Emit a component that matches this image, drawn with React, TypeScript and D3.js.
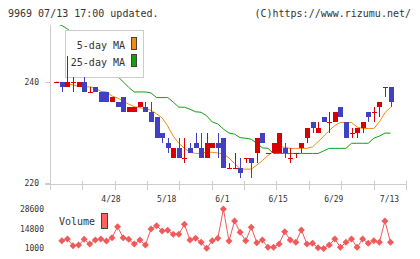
import React from "react";
import * as d3 from "d3";

const title = "9969 07/13 17:00 updated.";
const copyright = "(C)https://www.rizumu.net/";

const dates = [
  "4/14","4/15","4/18","4/19","4/20","4/21","4/22","4/25","4/26","4/27","4/28",
  "5/2","5/6","5/9","5/10","5/11","5/12","5/13","5/16","5/17","5/18",
  "5/19","5/20","5/23","5/24","5/25","5/26","5/27","5/30","5/31","6/1",
  "6/2","6/3","6/6","6/7","6/8","6/9","6/10","6/13","6/14","6/15",
  "6/16","6/17","6/20","6/21","6/22","6/23","6/24","6/27","6/28","6/29",
  "6/30","7/1","7/4","7/5","7/6","7/7","7/8","7/11","7/12","7/13",
];
const labelDates = ["4/28", "5/18", "6/1", "6/15", "6/29", "7/13"];

const opens = [240,240,239,240,239,240,238,239,238,238,236,236,237,234,234,235,235,234,233,230,228,225,227,225,227,228,227,225,227,228,229,223,223,223,225,225,226,230,226,226,226,227,225,226,227,229,232,230,233,232,232,235,232,230,230,231,234,234,235,239,239];
const highs = [240,240,245,241,240,241,239,239,238,238,237,236,237,235,235,236,236,236,233,230,229,227,229,229,228,230,230,230,228,230,229,224,226,225,225,225,229,230,226,228,230,228,227,226,228,231,232,232,233,234,234,235,232,231,231,232,234,235,236,239,239];
const lows = [240,238,239,238,239,238,238,238,236,236,236,235,234,234,234,235,234,232,229,228,226,225,225,224,226,227,225,225,227,225,223,223,223,221,224,221,224,228,226,226,226,225,224,225,226,228,230,230,232,230,232,233,229,229,229,230,232,232,233,237,235];
const closes = [240,239,240,240,240,238,238,238,236,236,237,235,234,235,235,236,234,232,229,229,227,227,225,225,226,227,225,228,228,227,223,223,223,222,225,224,229,228,226,228,230,226,225,226,228,231,231,231,232,232,234,233,229,230,231,232,233,234,236,239,236];
const volumes = [null,6300,7500,2800,3300,7300,4000,6800,7500,6100,8400,16200,8400,7300,4000,6800,3300,14600,16900,13200,13600,10800,10800,17900,6800,8000,5200,1000,6300,8000,28600,6100,20200,12200,6300,15800,4900,6800,1700,1700,4000,12700,6800,5200,13900,4000,4500,1400,900,3300,7500,1700,5200,7500,1700,7500,4500,6300,5200,20200,5200];
const ma5 = [240.0,239.8,239.6,239.4,239.1,239.0,239.0,238.8,238.1,238.0,237.2,236.8,236.2,235.6,235.1,234.9,234.7,234.4,233.7,232.9,231.3,229.3,227.9,226.9,226.2,225.9,225.9,226.2,226.1,226.0,225.8,225.0,223.9,222.9,222.8,222.8,223.6,224.5,225.5,226.3,227.3,227.1,226.9,226.9,226.9,226.9,227.2,228.2,229.3,230.4,231.4,232.0,232.0,232.0,231.1,230.8,230.8,230.8,232.1,233.9,235.0];
const ma25 = [251.4,251.1,250.4,249.6,248.6,247.6,246.5,245.3,244.3,243.3,242.3,241.1,240.0,238.9,238.0,238.0,238.0,237.8,236.9,236.9,236.9,236.0,235.0,235.0,234.6,234.1,234.0,233.3,232.1,231.7,230.7,229.9,229.7,229.0,228.9,228.7,227.9,227.0,226.9,225.9,225.9,225.9,225.9,225.9,225.9,225.9,225.9,225.9,226.4,226.9,226.9,226.9,226.9,227.9,227.9,227.9,227.9,228.9,229.3,229.9,229.9];

const priceTicks = [240, 220];
const volumeTicks = [28600, 14800, 1000];
const legendItems = ["5-day MA", "25-day MA"];

const RED = "#d80000";
const BLUE = "#4040c0";
const ORANGE = "#f08c10";
const GREEN = "#10a010";
const VOL = "#f05a5a";
const GRID = "#cccccc";
const TEXT = "#333333";
const MONO = "'DejaVu Sans Mono', monospace";

export default function App() {
  const x = d3.scaleLinear().domain([0, dates.length - 1]).range([56.3, 390.5]);
  const y = d3.scaleLinear().domain([220, 240]).range([183.4, 81.8]);
  const yv = d3.scaleLinear().domain([1000, 28600]).range([248.3, 209]);

  const tickX = d3.range(12).map((k) => 50 + k * 32.35);

  const lineMA = (vals: number[]) =>
    d3.line<number>().x((_, i) => x(i)).y((v) => y(v))(vals) || "";

  const volPts = volumes
    .map((v, i) => (v == null ? null : [x(i), yv(v)]))
    .filter((p) => p != null) as [number, number][];
  const volPath = d3.line()(volPts) || "";

  return (
    <svg
      width={420}
      height={259}
      style={{ position: "absolute", left: 0, top: 0, background: "#fff" }}
      fontFamily={MONO}
    >
      <defs>
        <clipPath id="plot">
          <rect x={50.5} y={25} width={360} height={159} />
        </clipPath>
      </defs>
      <text x={8} y={17} fontSize={10} fill={TEXT}>{title}</text>
      <text x={411} y={17} fontSize={10} fill={TEXT} textAnchor="end">{copyright}</text>

      {/* axes */}
      <line x1={50.5} y1={25} x2={50.5} y2={190} stroke={GRID} />
      <line x1={45} y1={184.5} x2={406} y2={184.5} stroke={GRID} />
      {tickX.map((tx, k) => (
        <line key={k} x1={Math.round(tx) + 0.5} x2={Math.round(tx) + 0.5} y1={181} y2={190} stroke={GRID} />
      ))}
      {priceTicks.map((p) => (
        <g key={p}>
          <line x1={45} x2={50} y1={Math.round(y(p)) + 0.5} y2={Math.round(y(p)) + 0.5} stroke={GRID} />
          <text x={39} y={y(p) + 3} fontSize={8} fill={TEXT} textAnchor="end">{p}</text>
        </g>
      ))}
      {labelDates.map((d) => (
        <text key={d} x={x(dates.indexOf(d)) - 1} y={202} fontSize={8} fill={TEXT} textAnchor="middle">{d}</text>
      ))}

      <g clipPath="url(#plot)">
        <path d={lineMA(ma25)} fill="none" stroke={GREEN} strokeWidth={1} />
        <path d={lineMA(ma5)} fill="none" stroke={ORANGE} strokeWidth={1} />
      </g>

      {/* legend */}
      <rect x={65.5} y={30.5} width={78} height={47} fill="#fff" stroke={GRID} />
      {legendItems.map((t, k) => (
        <g key={t}>
          <text x={125} y={49 + k * 17} fontSize={10} fill={TEXT} textAnchor="end">{t}</text>
          <rect x={131.5} y={37.5 + k * 17} width={5} height={12} fill={k === 0 ? ORANGE : GREEN} stroke="#444" />
        </g>
      ))}

      <g clipPath="url(#plot)" shapeRendering="crispEdges">
        {dates.map((d, i) => {
          const o = opens[i], c = closes[i], h = highs[i], l = lows[i];
          const up = c >= o;
          const col = up ? RED : BLUE;
          const cx = Math.round(x(i));
          const top = Math.round(y(Math.max(o, c)));
          const bot = Math.round(y(Math.min(o, c)));
          return (
            <g key={d}>
              <rect x={cx} y={Math.round(y(h))} width={1} height={Math.max(1, Math.round(y(l)) - Math.round(y(h)))} fill={col} />
              <rect x={cx - 2} y={top} width={5} height={Math.max(1, bot - top)} fill={col} />
            </g>
          );
        })}
      </g>

      {/* volume */}
      {volumeTicks.map((v) => (
        <text key={v} x={44} y={yv(v) + 3} fontSize={8} fill={TEXT} textAnchor="end">{v}</text>
      ))}
      <text x={59} y={225} fontSize={10} fill={TEXT}>Volume</text>
      <rect x={101.5} y={213.5} width={6} height={15} fill="#ff6060" stroke="#444" />
      <path d={volPath} fill="none" stroke={VOL} strokeWidth={1} />
      {volPts.map(([px, py], i) => (
        <path key={i} d={`M${px},${py - 3.5}L${px + 3.5},${py}L${px},${py + 3.5}L${px - 3.5},${py}Z`} fill={VOL} />
      ))}
    </svg>
  );
}
